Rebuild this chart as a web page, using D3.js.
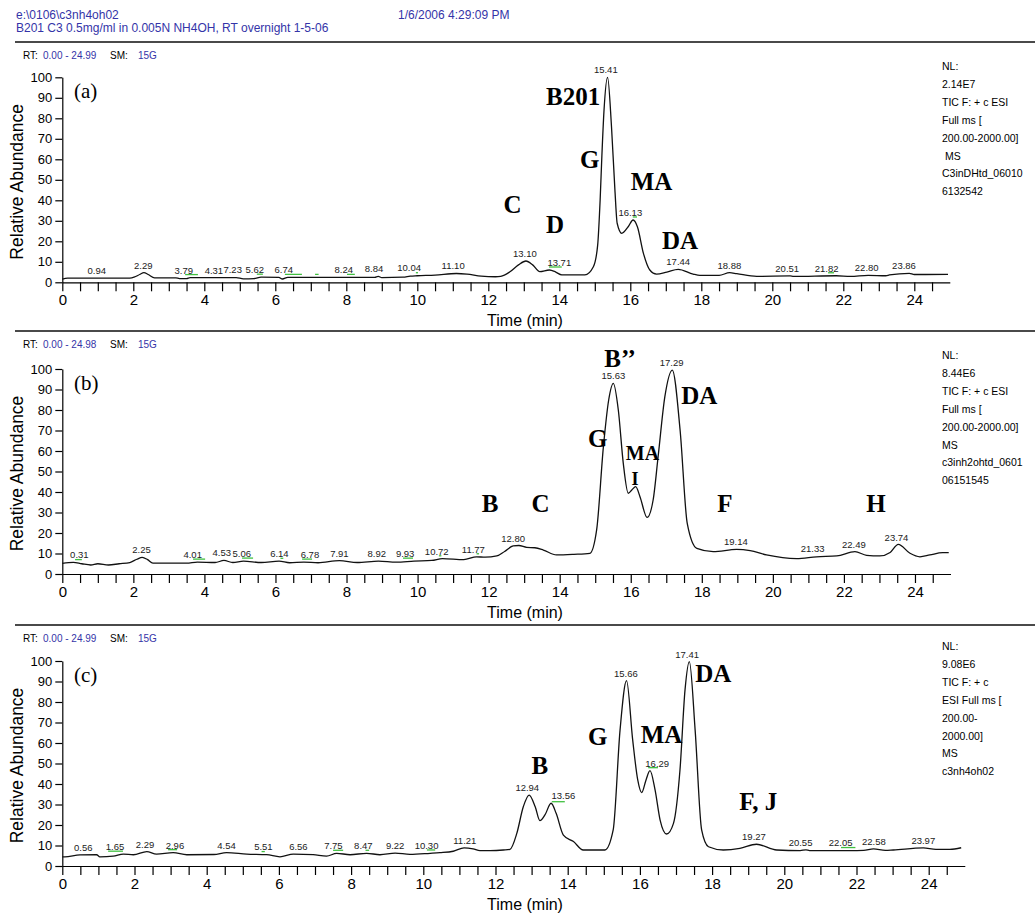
<!DOCTYPE html>
<meta charset="utf-8">
<script src="https://cdn.jsdelivr.net/npm/d3@7"></script>
<style>
  body { margin: 0; background: #fff; }
  text { font-family: "Liberation Sans", Arial, sans-serif; }
  text.serif { font-family: "Liberation Serif", "Times New Roman", serif; }
</style>
<div id="chart"></div>
<script>
  // ---- chromatogram traces: [time (min), relative abundance] ----
  const traceA = [[0,1.5],[0.15,2.0],[1.9,2.0],[2.05,2.7],[2.18,3.8],[2.3,4.7],[2.42,3.8],[2.6,2.2],[3.2,2.2],[3.3,1.8],[3.5,1.8],[3.6,2.3],[4.9,2.3],[5.1,1.7],[5.4,1.8],[5.6,2.5],[6.1,2.4],[6.2,1.6],[6.35,2.4],[8.8,2.4],[8.9,2.9],[9.0,2.3],[9.6,2.5],[9.8,3.0],[10.0,3.2],[10.5,3.5],[11.1,4.3],[11.4,4.0],[11.8,3.0],[12.2,2.7],[12.35,2.9],[12.6,5.0],[12.85,8.5],[13.06,10.4],[13.25,8.5],[13.45,5.2],[13.72,6.0],[13.9,5.0],[14.07,3.6],[14.72,3.6],[14.96,7.6],[15.08,18],[15.15,40],[15.2,62],[15.26,84],[15.36,100],[15.47,76],[15.57,44],[15.63,28.8],[15.76,23.9],[15.94,27.1],[16.08,30.4],[16.2,27.1],[16.37,14.1],[16.55,6],[16.74,4],[17.03,5],[17.35,6.3],[17.77,4],[17.96,3.4],[18.5,3.4],[18.8,4.7],[19.0,4.2],[19.56,2.9],[20.5,3.1],[20.6,2.9],[21.8,3.2],[22.2,2.9],[22.7,3.4],[23.2,3.2],[23.3,3.6],[23.86,4.4],[24.0,3.8],[24.95,3.9]];
  const traceB = [[0,5.2],[0.31,5.7],[0.55,5.0],[0.8,4.4],[1.0,5.0],[1.3,4.4],[1.6,5.0],[1.9,5.6],[2.1,7.2],[2.25,8.1],[2.4,7.0],[2.55,5.3],[3.5,5.3],[3.8,5.8],[4.3,5.6],[4.55,6.6],[4.8,5.6],[5.1,6.3],[5.6,5.6],[6.1,6.3],[6.4,5.5],[6.8,5.8],[7.2,5.5],[7.8,6.5],[8.3,5.6],[8.9,6.3],[9.4,5.8],[9.9,6.3],[10.4,6.6],[10.7,7.5],[11.3,7.0],[11.66,8.4],[11.9,8.2],[12.23,8.8],[12.45,11],[12.69,13.7],[12.85,13.9],[13.07,13],[13.3,12.8],[13.54,11.7],[13.91,9.3],[14.4,9.6],[14.85,10.1],[15.04,21.5],[15.23,62],[15.38,85],[15.51,93],[15.65,80],[15.79,54],[15.93,39.4],[16.03,41],[16.14,42.6],[16.26,37.7],[16.46,27.6],[16.63,36.1],[16.77,57.2],[16.96,86.5],[17.17,99.5],[17.39,70],[17.59,24.7],[17.86,12.5],[18.32,10.9],[18.98,12],[19.36,11.4],[19.82,9.3],[20.67,7.5],[21.23,8.4],[21.8,8.8],[22.31,10.9],[22.64,9.1],[23.01,8.8],[23.3,10.5],[23.53,14.5],[23.86,10.1],[24.14,8.4],[24.42,9.3],[24.78,10.4],[24.95,10.4]];
  const traceC = [[0,4.5],[0.07,4.5],[0.49,5.4],[0.95,5.5],[1.04,4.5],[1.41,4.8],[1.69,5.8],[1.97,5.5],[2.34,7.0],[2.61,5.8],[3.07,6.5],[3.45,5.5],[4.2,5.6],[4.55,6.5],[5.11,5.8],[5.66,5.5],[6.03,4.5],[6.4,5.8],[6.95,5.5],[7.32,4.8],[7.6,6.2],[7.97,5.5],[8.43,6.2],[8.8,5.5],[9.22,6.3],[9.63,5.7],[10.19,6.2],[10.46,6.5],[10.83,7.2],[11.13,8.8],[11.38,8.3],[11.57,7.5],[11.85,7.5],[12.22,7.8],[12.4,8.1],[12.59,15.9],[12.77,28.9],[12.93,34.6],[13.1,28.9],[13.23,22.1],[13.37,24.9],[13.54,30.6],[13.68,25.7],[13.88,15.1],[14.16,11.9],[14.43,7.8],[15.03,7.8],[15.26,17.6],[15.45,66.3],[15.63,90.4],[15.8,61.5],[15.94,42],[16.05,35.8],[16.17,42],[16.28,46.5],[16.42,37.1],[16.56,22.4],[16.74,15.6],[16.93,20.8],[17.11,46.8],[17.25,85.9],[17.37,99.7],[17.53,66.3],[17.71,17.6],[17.9,9.4],[18.31,7.8],[18.77,8.6],[19.23,10.6],[19.79,7.8],[20.44,7.5],[20.6,7.9],[20.7,7.5],[21.82,7.5],[22.2,7.6],[22.47,8.4],[22.8,7.6],[23.02,7.8],[23.85,8.8],[24.2,8.1],[24.59,8.1],[24.9,8.9]];

  // ---- peak retention-time labels: [label, time where it is printed] ----
  const peaksA = [["0.94",0.97],["2.29",2.28],["3.79",3.42],["4.31",4.27],["7.23",4.8],["5.62",5.42],["6.74",6.24],["8.24",7.93],["8.84",8.78],["10.04",9.77],["11.10",11.01],["13.10",13.03],["13.71",14.0],["15.41",15.31],["16.13",16.0],["17.44",17.35],["18.88",18.79],["20.51",20.42],["21.82",21.53],["22.80",22.66],["23.86",23.71]];
  const peaksB = [["0.31",0.48],["2.25",2.23],["4.01",3.67],["4.53",4.49],["5.06",5.05],["6.14",6.11],["6.78",6.97],["7.91",7.8],["8.92",8.85],["9.93",9.65],["10.72",10.54],["11.77",11.57],["12.80",12.69],["15.63",15.51],["17.29",17.15],["19.14",18.96],["21.33",21.12],["22.49",22.28],["23.74",23.48]];
  const peaksC = [["0.56",0.58],["1.65",1.46],["2.29",2.29],["2.96",3.12],["4.54",4.55],["5.51",5.57],["6.56",6.54],["7.75",7.51],["8.47",8.34],["9.22",9.22],["10.30",10.09],["11.21",11.15],["12.94",12.88],["13.56",13.88],["15.66",15.61],["16.29",16.48],["17.41",17.31],["19.27",19.16],["20.55",20.45],["22.05",21.56],["22.58",22.48],["23.97",23.85]];

  // ---- green peak-detection marks: [start, end] in minutes ----
  const greensA = [[3.46,3.82],[5.48,5.65],[6.27,6.75],[7.12,7.22],[8.02,8.24],[9.96,10.02],[13.71,14.07],[16.07,16.19],[21.57,21.74]];
  const greensB = [[0.36,0.55],[3.68,4.02],[5.06,5.37],[6.14,6.22],[6.75,7.03],[9.59,9.87],[10.6,10.67],[11.66,11.73]];
  const greensC = [[1.27,1.68],[2.93,3.18],[5.52,5.61],[7.5,7.78],[8.4,8.5],[10.1,10.33],[13.56,13.92],[16.23,16.5],[21.57,21.97]];

  // ---- compound annotations: [text, time, abundance of baseline] ----
  const annotA = [["B201",14.39,86.5],["G",14.86,55.8],["MA",16.6,45],["C",12.68,34],["D",13.88,23.9],["DA",17.4,16.1]];
  const annotB = [["B\u2019\u2019",15.7,101],["DA",17.93,82.9],["G",15.07,62.1],["MA",16.33,55.6],["I",16.12,43.4],["B",12.04,30.4],["C",13.46,30.4],["F",18.65,30.4],["H",22.9,30.4]];
  const annotC = [["B",13.23,44.9],["G",14.83,59],["MA",16.6,59.8],["DA",18.03,89.9],["F, J",19.28,27.3]];

  // ---- scan info text ----
  const infoA = ["NL:","2.14E7","TIC F: + c ESI","Full ms [","200.00-2000.00]"," MS","C3inDHtd_06010","6132542"];
  const infoB = ["NL:","8.44E6","TIC F: + c ESI","Full ms [","200.00-2000.00]","MS","c3inh2ohtd_0601","06151545"];
  const infoC = ["NL:","9.08E6","TIC F: + c","ESI Full ms [","200.00-","2000.00]","MS","c3nh4oh02"];
  const rtRanges = ["0.00 - 24.99","0.00 - 24.98","0.00 - 24.99"];
  const panelTags = ["(a)","(b)","(c)"];
  const yTicks = d3.range(0, 101, 10);
  const xTicks = d3.range(0, 24.51, 0.5);

  const width = 1035, height = 913;
  const blue = "#3434a8";
  const svg = d3.select("#chart").append("svg")
    .attr("width", width).attr("height", height);

  // file header
  svg.append("text").attr("x", 16).attr("y", 19).attr("font-size", 12).attr("fill", blue).text("e:\\0106\\c3nh4oh02");
  svg.append("text").attr("x", 398).attr("y", 19).attr("font-size", 12).attr("fill", blue).text("1/6/2006 4:29:09 PM");
  svg.append("text").attr("x", 16).attr("y", 32).attr("font-size", 12).attr("fill", blue).text("B201 C3 0.5mg/ml in 0.005N NH4OH, RT overnight 1-5-06");

  const panels = [
    { trace: traceA, peaks: peaksA, greens: greensA, annot: annotA, info: infoA, sep: 42, top: 77.3, bottom: 282.3, xEnd: 949.8, infoY: 66 },
    { trace: traceB, peaks: peaksB, greens: greensB, annot: annotB, info: infoB, sep: 331, top: 369, bottom: 574, xEnd: 950.5, infoY: 355 },
    { trace: traceC, peaks: peaksC, greens: greensC, annot: annotC, info: infoC, sep: 625, top: 661, bottom: 866, xEnd: 964.8, infoY: 646 }
  ];
  // a few letters in (b) are printed smaller
  const smallAnnot = { "1:MA": 20, "1:I": 18 };

  function valAt(tr, t) {
    const i = d3.bisector(d => d[0]).right(tr, t);
    if (i <= 0) return tr[0][1];
    if (i >= tr.length) return tr[tr.length - 1][1];
    const a = tr[i - 1], b = tr[i];
    return a[1] + (b[1] - a[1]) * (t - a[0]) / (b[0] - a[0]);
  }
  function maxIn(tr, t0, t1) {
    let m = -Infinity;
    for (let t = t0; t <= t1 + 1e-9; t += 0.01) m = Math.max(m, valAt(tr, t));
    return m;
  }

  panels.forEach((p, k) => {
    const x = d3.scaleLinear().domain([0, 25]).range([62.3, p.xEnd]);
    const y = d3.scaleLinear().domain([0, 100]).range([p.bottom, p.top]);
    const g = svg.append("g");

    // separator + RT line
    g.append("line").attr("x1", 15).attr("x2", width).attr("y1", p.sep).attr("y2", p.sep)
      .attr("stroke", "#4a4a4a").attr("stroke-width", 2);
    const rt = g.append("text").attr("y", p.sep + 17).attr("font-size", 10);
    rt.append("tspan").attr("x", 23).text("RT:");
    rt.append("tspan").attr("x", 43).attr("fill", blue).text(rtRanges[k]);
    rt.append("tspan").attr("x", 110).text("SM:");
    rt.append("tspan").attr("x", 138).attr("fill", blue).text("15G");

    // axes
    const xAxis = g.append("g").attr("transform", `translate(0,${p.bottom})`)
      .call(d3.axisBottom(x).tickValues(xTicks).tickSize(9).tickSizeOuter(0).tickPadding(3)
        .tickFormat(d => d % 2 === 0 ? d : ""));
    xAxis.selectAll("text").attr("font-size", 15).attr("font-family", null);
    const yAxis = g.append("g").attr("transform", `translate(62.3,0)`)
      .call(d3.axisLeft(y).tickValues(yTicks).tickSize(7).tickSizeOuter(0).tickPadding(3));
    yAxis.selectAll("text").attr("font-size", 13).attr("font-family", null);
    g.selectAll(".domain, .tick line").attr("stroke", "#000").attr("stroke-width", 1.2);

    g.append("text").attr("x", 525).attr("y", p.bottom + 44).attr("text-anchor", "middle")
      .attr("font-size", 16).text("Time (min)");
    g.append("text").attr("transform", `translate(23,${(p.top + p.bottom) / 2 + 2}) rotate(-90)`)
      .attr("text-anchor", "middle").attr("font-size", 17.5).text("Relative Abundance");

    g.append("text").attr("class", "serif").attr("x", 74).attr("y", p.top + 21)
      .attr("font-size", 21).text(panelTags[k]);

    // trace
    g.append("path").datum(p.trace)
      .attr("d", d3.line().x(d => x(d[0])).y(d => y(d[1])).curve(d3.curveMonotoneX))
      .attr("fill", "none").attr("stroke", "#111").attr("stroke-width", 1.3);

    // green marks
    g.selectAll(".gm").data(p.greens).enter().append("line")
      .attr("x1", d => x(d[0])).attr("x2", d => x(d[1]))
      .attr("y1", d => y(maxIn(p.trace, d[0], d[1])) - 3)
      .attr("y2", d => y(maxIn(p.trace, d[0], d[1])) - 3)
      .attr("stroke", "#40c040").attr("stroke-width", 1.3);

    // peak labels
    g.selectAll(".pk").data(p.peaks).enter().append("text")
      .attr("x", d => x(d[1]))
      .attr("y", d => { const rtv = +d[0]; return y(maxIn(p.trace, rtv - 0.2, rtv + 0.2)) - 4; })
      .attr("text-anchor", "middle").attr("font-size", 9.5).attr("fill", "#222")
      .text(d => d[0]);

    // compound letters
    g.selectAll(".an").data(p.annot).enter().append("text")
      .attr("class", "serif")
      .attr("x", d => x(d[1])).attr("y", d => y(d[2]))
      .attr("text-anchor", "middle").attr("font-weight", "bold")
      .attr("font-size", d => smallAnnot[k + ":" + d[0]] || 25)
      .text(d => d[0]);

    // scan info
    g.selectAll(".inf").data(p.info).enter().append("text")
      .attr("x", 942).attr("y", (d, i) => p.infoY + 4 + i * 17.9)
      .attr("font-size", 10.5).style("white-space", "pre")
      .text(d => d);
  });
</script>
